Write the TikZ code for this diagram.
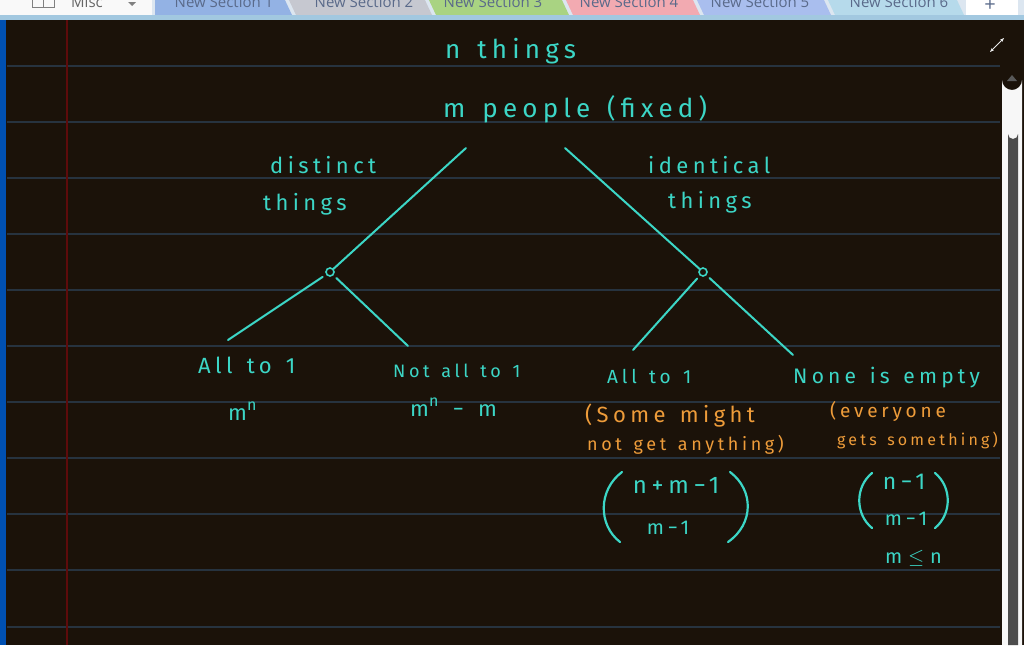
\documentclass[tikz,border=0pt]{standalone}
\usepackage{fontspec}
\setmainfont{Fira Sans}
\newfontfamily\hand{Fira Sans}[LetterSpace=20, WordSpace=1.4]
\newfontfamily\uifont{Open Sans}
\usetikzlibrary{positioning,calc,arrows.meta}
\definecolor{paper}{HTML}{1B1209}
\definecolor{inkcyan}{HTML}{3CD6C6}
\definecolor{inkorange}{HTML}{EE9C3A}
\definecolor{ruleline}{HTML}{27333F}
\definecolor{margin}{HTML}{5E0B0B}
\definecolor{tabtext}{HTML}{5A6A8A}
\definecolor{tabA}{HTML}{93B2E4}
\definecolor{tabB}{HTML}{C6C8D0}
\definecolor{tabC}{HTML}{A9D382}
\definecolor{tabD}{HTML}{F2AAB1}
\definecolor{tabE}{HTML}{A9BEEE}
\definecolor{tabF}{HTML}{B6DAEB}
\definecolor{tabbar}{HTML}{DCE6F0}
\definecolor{stripe}{HTML}{A2C8E0}
\newcommand{\fs}[1]{\fontsize{#1}{#1}\selectfont}

\begin{document}
\begin{tikzpicture}[x=1pt,y=-1pt]
  \tikzstyle{hand}=[text=inkcyan, inner sep=0pt, anchor=base west]
  \tikzstyle{note}=[hand, text=inkorange]
  \tikzstyle{branch}=[draw=inkcyan, line width=2pt, line cap=round]
  \tikzstyle{paren}=[draw=inkcyan, line width=2.2pt, line cap=round]
  \tikzstyle{split}=[circle, draw=inkcyan, line width=1.6pt, minimum size=8pt, inner sep=0pt]
  \tikzstyle{tab}=[font=\uifont\fs{15}, text=tabtext, anchor=base]

  \clip (0,0) rectangle (1024,645);

  % Page
  \fill[paper] (0,0) rectangle (1024,645);
  \foreach \y in {66,122,178,234,290,346,402,458,514,570,627}
    \draw[ruleline, line width=1.2pt] (7,\y) -- (1000,\y);
  \draw[margin, line width=1.5pt] (67,20) -- (67,645);
  \fill[blue!55!cyan!70!black] (0,20) rectangle (6,645);

  % Tab bar
  \fill[tabbar] (0,0) rectangle (1024,20);
  \fill[white!95!gray] (0,-2) rectangle (152,15);
  \draw[gray, line width=1pt] (32,-4) rectangle (54,7) (43,-4) -- (43,7);
  \node[tab, text=gray!80!black] (misc) at (87,7.5) {Misc};
  \fill[gray] (128,2) -- (136,2) -- (132,6) -- cycle;
  \fill[tabA] (155,-2) -- (284,-2) -- (292,15) -- (155,15) -- cycle;
  \fill[tabB] (288,-2) -- (424,-2) -- (432,15) -- (296,15) -- cycle;
  \fill[tabC] (428,-2) -- (561,-2) -- (569,15) -- (436,15) -- cycle;
  \fill[tabD] (565,-2) -- (692,-2) -- (700,15) -- (573,15) -- cycle;
  \fill[tabE] (696,-2) -- (823,-2) -- (831,15) -- (704,15) -- cycle;
  \fill[tabF] (827,-2) -- (956,-2) -- (964,15) -- (835,15) -- cycle;
  \fill[white] (966,-2) rectangle (1018,15);
  \node[tab] (sec1) at (224,7.5) {New Section 1};
  \node[tab] (sec2) at (364,7.5) {New Section 2};
  \node[tab] (sec3) at (493,7.5) {New Section 3};
  \node[tab] (sec4) at (629,7.5) {New Section 4};
  \node[tab] (sec5) at (760,7.5) {New Section 5};
  \node[tab] (sec6) at (899,7.5) {New Section 6};
  \node[tab, font=\uifont\fs{20}] (plus) at (990,11) {+};
  \fill[stripe] (0,15) rectangle (1024,20);

  % Scrollbar and expand icon
  \fill[white!94!gray] (1002,645) -- (1002,80) arc[start angle=180, end angle=0, radius=10] -- (1022,645) -- cycle;
  \fill[gray!60!black] (1008,645) -- (1008,134) arc[start angle=180, end angle=0, radius=5] -- (1018,645) -- cycle;
  \fill[gray!70!black] (1007,81) -- (1017,81) -- (1012,75) -- cycle;
  \draw[white!85!gray, line width=1pt, {Stealth[length=4pt]}-{Stealth[length=4pt]}] (990,52) -- (1004,38);

  % Top
  \node[hand, font=\hand\fs{26}] (things) at (445,58) {n things};
  \node[hand, font=\hand\fs{26}] (people) at (443,117) {m people (fixed)};

  % Distinct / identical
  \node[hand, font=\hand\fs{22}] (dist) at (270,173) {distinct};
  \node[hand, font=\hand\fs{22}] (distb) at (263,210) {things};
  \node[hand, font=\hand\fs{22}] (iden) at (648,173) {identical};
  \node[hand, font=\hand\fs{22}] (idenb) at (668,208) {things};

  \coordinate (rootL) at (466,148);
  \coordinate (rootR) at (565,148);
  \node[split] (splitL) at (330,272) {};
  \node[split] (splitR) at (703,272) {};
  \draw[branch] (rootL) -- (splitL);
  \draw[branch] (rootR) -- (splitR);

  % Leaves
  \coordinate (endA) at (228,340);
  \coordinate (endB) at (408,346);
  \coordinate (endC) at (633,350);
  \coordinate (endD) at (793,355);
  \draw[branch, shorten <=4pt] (splitL) -- (endA);
  \draw[branch, shorten <=4pt] (splitL) -- (endB);
  \draw[branch, shorten <=4pt] (splitR) -- (endC);
  \draw[branch, shorten <=4pt] (splitR) -- (endD);

  \node[hand, font=\hand\fs{22}] (allA) at (198,373) {All to 1};
  \node[hand, font=\hand\fs{22}] (powA) at (228,420) {m\raisebox{10pt}{\fs{16}n}};
  \node[hand, font=\hand\fs{18}] (notall) at (393,377) {Not all to 1};
  \node[hand, font=\hand\fs{22}] (powB) at (410,416) {m\raisebox{10pt}{\fs{16}n} − m};
  \node[hand, font=\hand\fs{19}] (allC) at (607,383) {All to 1};
  \node[hand, font=\hand\fs{21}] (none) at (793,383) {None is empty};

  % Notes
  \node[note, font=\hand\fs{22}] (some) at (585,422) {(Some might};
  \node[note, font=\hand\fs{18}] (someb) at (587,450) {not get anything)};
  \node[note, font=\hand\fs{19}] (every) at (830,417) {(everyone};
  \node[note, font=\hand\fs{16}] (everyb) at (837,445) {gets something)};

  % Counts
  \node[hand, anchor=center, font=\hand\fs{24}] (topA) at (676,485) {n+m−1};
  \node[hand, anchor=center, font=\hand\fs{20}] (botA) at (668,528) {m−1};
  \node[hand, anchor=center, font=\hand\fs{23}] (topB) at (904,482) {n−1};
  \node[hand, anchor=center, font=\hand\fs{20}] (botB) at (906,519) {m−1};
  \draw[paren] (622,472) .. controls (598,490) and (598,525) .. (620,542);
  \draw[paren] (730,472) .. controls (754,490) and (754,524) .. (728,542);
  \draw[paren] (872,473) .. controls (855,487) and (855,514) .. (872,528);
  \draw[paren] (935,473) .. controls (952,487) and (952,514) .. (935,528);
  \node[hand, font=\hand\fs{20}] (cond) at (885,563) {m$\;\leq\;$n};
\end{tikzpicture}
\end{document}
